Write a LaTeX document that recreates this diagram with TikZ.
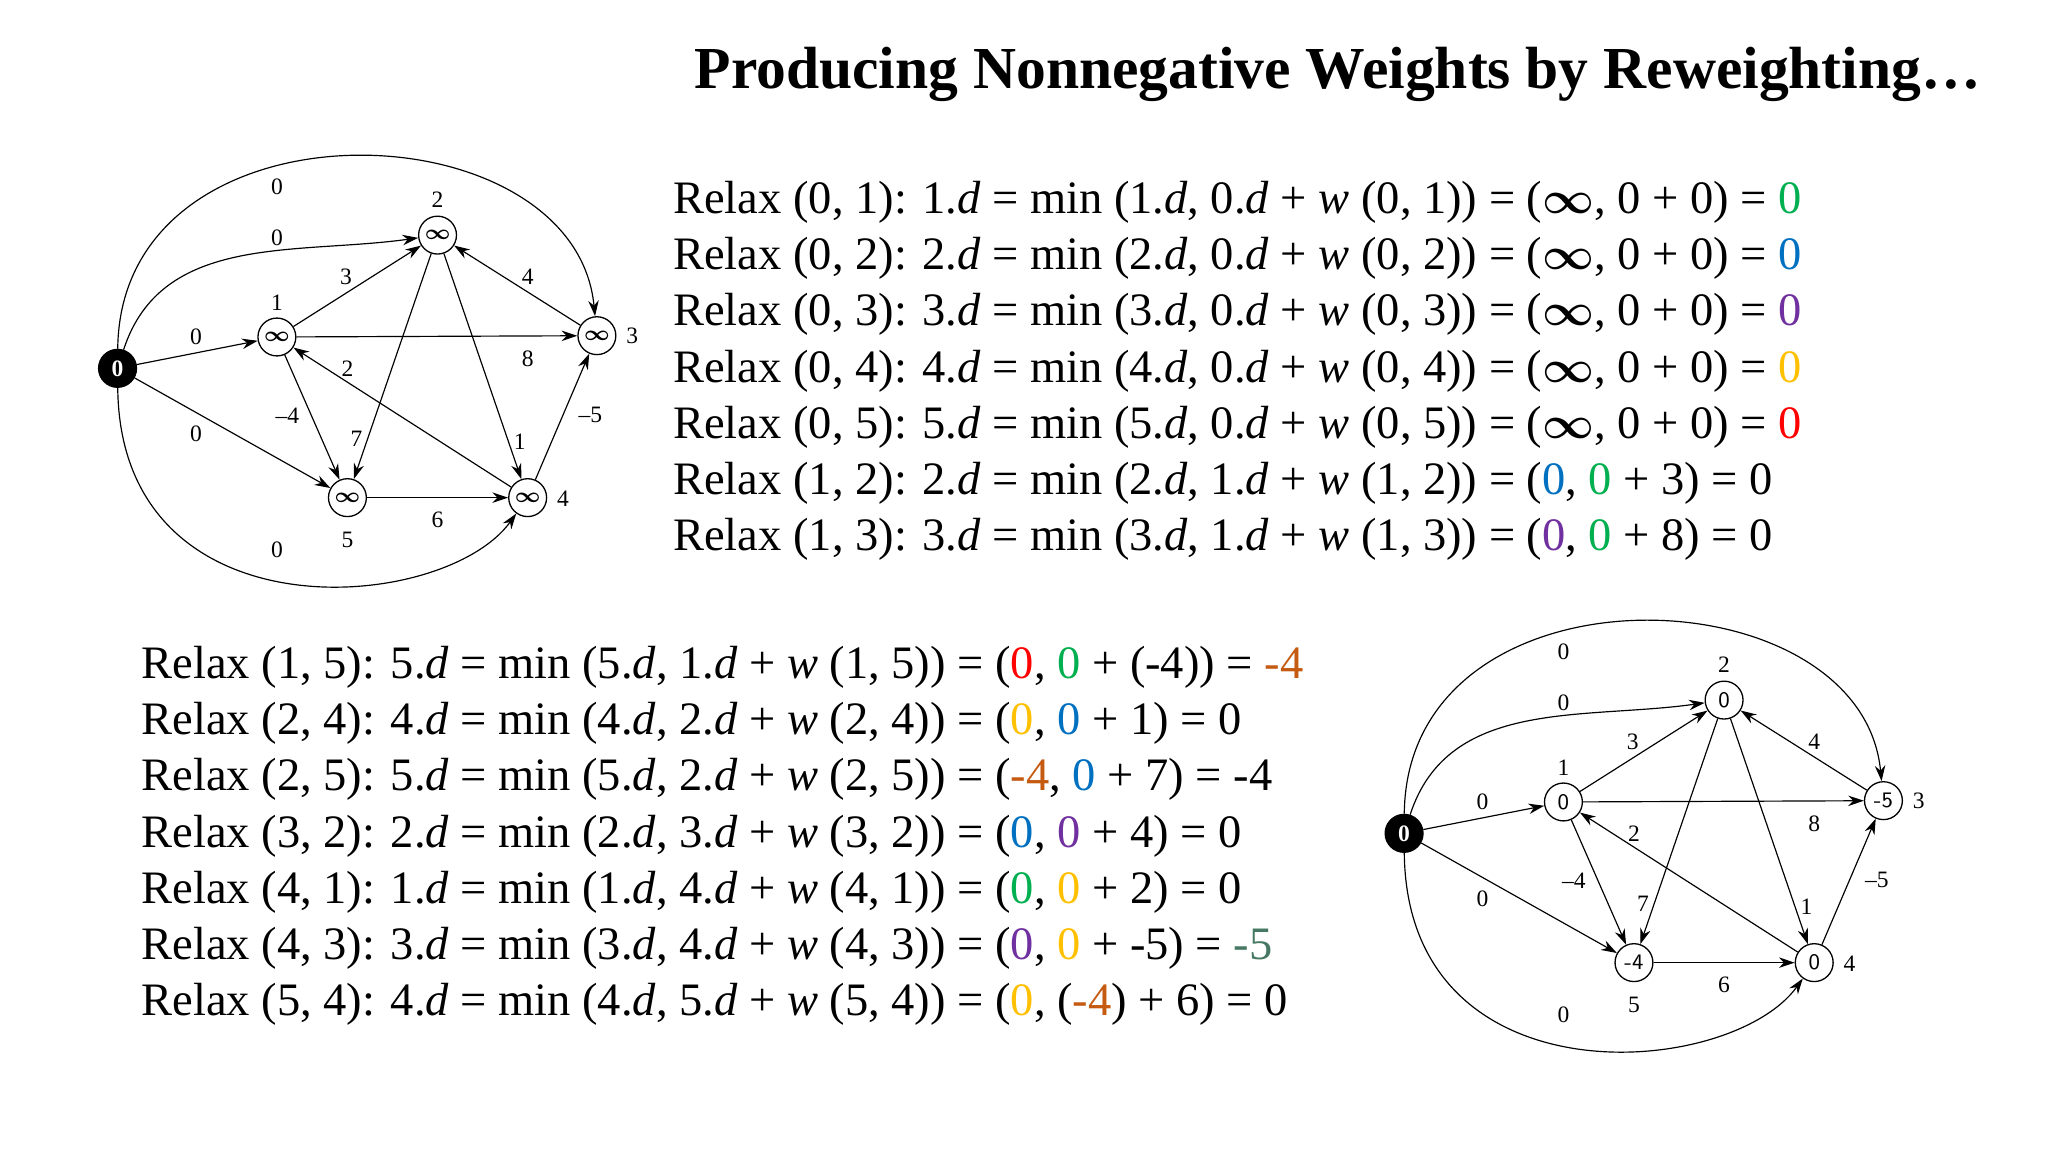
\documentclass[tikz,border=0pt]{standalone}
\usepackage{fontspec}
\setmainfont{Liberation Serif}
\usetikzlibrary{arrows.meta}
\definecolor{cG}{RGB}{0,176,80}
\definecolor{cB}{RGB}{0,112,192}
\definecolor{cP}{RGB}{112,48,160}
\definecolor{cY}{RGB}{255,192,0}
\definecolor{cR}{RGB}{255,0,0}
\definecolor{cO}{RGB}{197,90,17}
\definecolor{cT}{RGB}{70,120,100}
\newcommand\G[1]{\textcolor{cG}{#1}}
\newcommand\B[1]{\textcolor{cB}{#1}}
\newcommand\PP[1]{\textcolor{cP}{#1}}
\newcommand\Y[1]{\textcolor{cY}{#1}}
\newcommand\RR[1]{\textcolor{cR}{#1}}
\newcommand\OO[1]{\textcolor{cO}{#1}}
\newcommand\TT[1]{\textcolor{cT}{#1}}
\newcommand\dd{\textit{d}}
\newcommand\ww{\textit{w}}
\newcommand\inff{$\boldsymbol{\infty}$}
\usepackage{amsmath}
\newcommand\drawgraph[7]{%
 \node[vtx,fill=black,text=white,font=\fontsize{9}{10}\selectfont\bfseries] (#10) at (90,282) {#2};
 \node[vtx] (#11) at (212,258) {#3};
 \node[vtx] (#12) at (335,180) {#4};
 \node[vtx] (#13) at (457,257) {#5};
 \node[vtx] (#14) at (404,381) {#6};
 \node[vtx] (#15) at (266,381) {#7};
 \node[lab] (#1l1) at (212,232) {1};
 \node[lab] (#1l2) at (335,153) {2};
 \node[lab] (#1l3) at (484,257) {3};
 \node[lab] (#1l4) at (431,382) {4};
 \node[lab] (#1l5) at (266,413) {5};
 \draw[edge] (#10) -- (#11);
 \draw[edge] (#10) to[out=72,in=188] (#12);
 \draw[edge] (#10) .. controls (92,70) and (440,80) .. (#13);
 \draw[edge] (#10) -- (#15);
 \draw[edge] (#10) .. controls (92,490) and (340,470) .. (#14);
 \draw[edge] (#11) -- (#12);
 \draw[edge] (#11) -- (#13);
 \draw[edge] (#11) -- (#15);
 \draw[edge] (#12) -- (#15);
 \draw[edge] (#12) -- (#14);
 \draw[edge] (#13) -- (#12);
 \draw[edge] (#14) -- (#11);
 \draw[edge] (#14) -- (#13);
 \draw[edge] (#15) -- (#14);
 \node[lab] (#1w01) at (150,258) {0};
 \node[lab] (#1w02) at (212,182) {0};
 \node[lab] (#1w03) at (212,143) {0};
 \node[lab] (#1w05) at (150,332) {0};
 \node[lab] (#1w04) at (212,421) {0};
 \node[lab] (#1w12) at (265,212) {3};
 \node[lab] (#1w13) at (404,275) {8};
 \node[lab] (#1w15) at (220,318) {--4};
 \node[lab] (#1w25) at (273,336) {7};
 \node[lab] (#1w24) at (398,338) {1};
 \node[lab] (#1w32) at (404,212) {4};
 \node[lab] (#1w41) at (266,282) {2};
 \node[lab] (#1w43) at (452,318) {--5};
 \node[lab] (#1w54) at (335,398) {6};
}
\begin{document}
\begin{tikzpicture}[x=0.5pt,y=-0.5pt,
 vtx/.style={circle,draw,line width=0.5pt,minimum size=14.5pt,inner sep=0pt,fill=white,font=\fontsize{8.5}{9}\selectfont\sffamily},
 lab/.style={font=\fontsize{9}{10}\selectfont,inner sep=0pt},
 edge/.style={line width=0.45pt,-{Stealth[length=6pt,width=4pt]}},
 rl/.style={anchor=west,inner sep=0pt,font=\fontsize{17.8}{20}\selectfont}]
\useasboundingbox (0,0) rectangle (1568,880);
\fill[white] (0,0) rectangle (1568,880);
\node[anchor=east,inner sep=0pt,font=\fontsize{22.8}{26}\selectfont\bfseries] (title) at (1517,57) {Producing Nonnegative Weights by Reweighting\ldots};
\drawgraph{a}{0}{\inff}{\inff}{\inff}{\inff}{\inff}
\begin{scope}[shift={(985,356)}]
\drawgraph{b}{0}{0}{0}{-5}{0}{-4}
\end{scope}
\node[rl] (r1) at (515,155) {Relax (0, 1): 1.\dd{} = min (1.\dd, 0.\dd{} + \ww{} (0, 1)) = (\inff, 0 + 0) = \G{0}};
\node[rl] (r2) at (515,198) {Relax (0, 2): 2.\dd{} = min (2.\dd, 0.\dd{} + \ww{} (0, 2)) = (\inff, 0 + 0) = \B{0}};
\node[rl] (r3) at (515,241) {Relax (0, 3): 3.\dd{} = min (3.\dd, 0.\dd{} + \ww{} (0, 3)) = (\inff, 0 + 0) = \PP{0}};
\node[rl] (r4) at (515,284) {Relax (0, 4): 4.\dd{} = min (4.\dd, 0.\dd{} + \ww{} (0, 4)) = (\inff, 0 + 0) = \Y{0}};
\node[rl] (r5) at (515,327) {Relax (0, 5): 5.\dd{} = min (5.\dd, 0.\dd{} + \ww{} (0, 5)) = (\inff, 0 + 0) = \RR{0}};
\node[rl] (r6) at (515,370) {Relax (1, 2): 2.\dd{} = min (2.\dd, 1.\dd{} + \ww{} (1, 2)) = (\B{0}, \G{0} + 3) = 0};
\node[rl] (r7) at (515,413) {Relax (1, 3): 3.\dd{} = min (3.\dd, 1.\dd{} + \ww{} (1, 3)) = (\PP{0}, \G{0} + 8) = 0};
\node[rl] (s1) at (108,511) {Relax (1, 5): 5.\dd{} = min (5.\dd, 1.\dd{} + \ww{} (1, 5)) = (\RR{0}, \G{0} + (-4)) = \OO{-4}};
\node[rl] (s2) at (108,554) {Relax (2, 4): 4.\dd{} = min (4.\dd, 2.\dd{} + \ww{} (2, 4)) = (\Y{0}, \B{0} + 1) = 0};
\node[rl] (s3) at (108,597) {Relax (2, 5): 5.\dd{} = min (5.\dd, 2.\dd{} + \ww{} (2, 5)) = (\OO{-4}, \B{0} + 7) = -4};
\node[rl] (s4) at (108,640) {Relax (3, 2): 2.\dd{} = min (2.\dd, 3.\dd{} + \ww{} (3, 2)) = (\B{0}, \PP{0} + 4) = 0};
\node[rl] (s5) at (108,683) {Relax (4, 1): 1.\dd{} = min (1.\dd, 4.\dd{} + \ww{} (4, 1)) = (\G{0}, \Y{0} + 2) = 0};
\node[rl] (s6) at (108,726) {Relax (4, 3): 3.\dd{} = min (3.\dd, 4.\dd{} + \ww{} (4, 3)) = (\PP{0}, \Y{0} + -5) = \TT{-5}};
\node[rl] (s7) at (108,769) {Relax (5, 4): 4.\dd{} = min (4.\dd, 5.\dd{} + \ww{} (5, 4)) = (\Y{0}, (\OO{-4}) + 6) = 0};
\end{tikzpicture}
\end{document}
